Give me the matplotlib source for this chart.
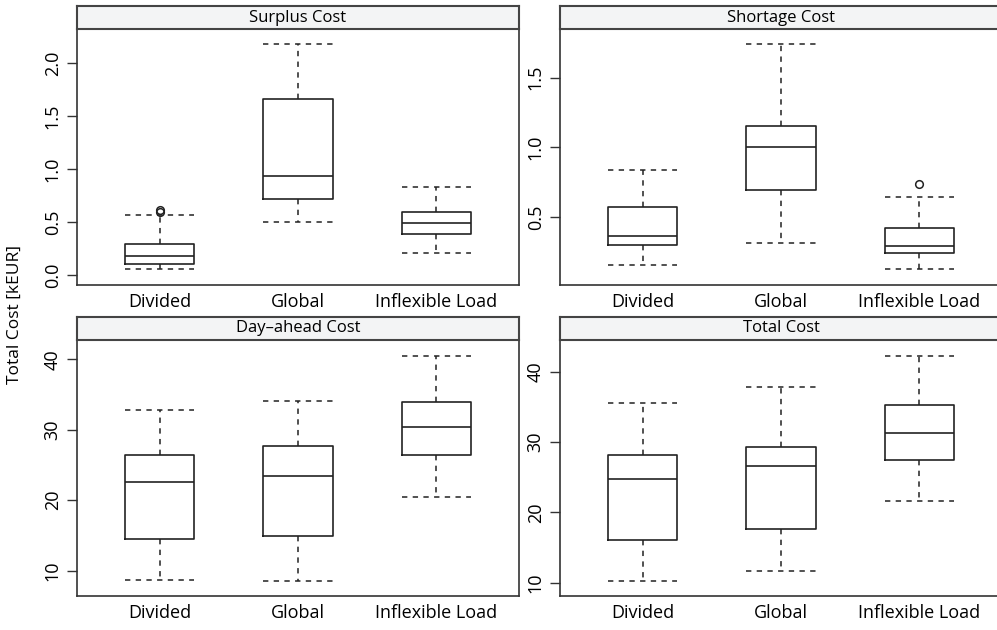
import matplotlib.pyplot as plt

plt.rcParams['font.family'] = ['Open Sans', 'DejaVu Sans']

groups = ["Divided", "Global", "Inflexible Load"]
panels = ["Surplus Cost", "Shortage Cost", "Day\u2013ahead Cost", "Total Cost"]

# box statistics per panel: lower whisker, Q1, median, Q3, upper whisker
surplus_lo = [0.06, 0.50, 0.214]
surplus_q1 = [0.11, 0.717, 0.387]
surplus_med = [0.186, 0.934, 0.49]
surplus_q3 = [0.30, 1.667, 0.594]
surplus_hi = [0.572, 2.18, 0.837]
surplus_out = [[0.600, 0.615], [], []]

shortage_lo = [0.156, 0.316, 0.127]
shortage_q1 = [0.297, 0.694, 0.239]
shortage_med = [0.366, 1.002, 0.294]
shortage_q3 = [0.574, 1.155, 0.424]
shortage_hi = [0.837, 1.742, 0.641]
shortage_out = [[], [], [0.739]]

dayahead_lo = [8.67, 8.58, 20.46]
dayahead_q1 = [14.54, 14.97, 26.42]
dayahead_med = [22.59, 23.39, 30.44]
dayahead_q3 = [26.47, 27.65, 33.90]
dayahead_hi = [32.81, 34.13, 40.52]
dayahead_out = [[], [], []]

total_lo = [10.28, 11.66, 21.67]
total_q1 = [16.07, 17.59, 27.42]
total_med = [24.71, 26.66, 31.31]
total_q3 = [28.22, 29.36, 35.25]
total_hi = [35.53, 37.91, 42.32]
total_out = [[], [], []]

data = [
    (surplus_lo, surplus_q1, surplus_med, surplus_q3, surplus_hi, surplus_out),
    (shortage_lo, shortage_q1, shortage_med, shortage_q3, shortage_hi, shortage_out),
    (dayahead_lo, dayahead_q1, dayahead_med, dayahead_q3, dayahead_hi, dayahead_out),
    (total_lo, total_q1, total_med, total_q3, total_hi, total_out),
]

yticks = [[0.0, 0.5, 1.0, 1.5, 2.0], [0.5, 1.0, 1.5], [10, 20, 30, 40], [10, 20, 30, 40]]
ylims = [(-0.091, 2.324), (0.012, 1.849), (6.40, 42.75), (8.10, 44.55)]

W, H = 997, 630
fig = plt.figure(figsize=(W / 100, H / 100), dpi=100)

# pixel layout of each panel: left, right, strip top, plot bottom
lefts = [77, 560]
width = 442
tops = [6, 317]
bottoms = [285, 596]
strip_h = 23

edge = '#333333'
dash = (0, (3.5, 3.5))

for i, name in enumerate(panels):
    r, c = divmod(i, 2)
    x0 = lefts[c] / W
    w = width / W
    strip_bottom = tops[r] + strip_h
    ax = fig.add_axes([x0, 1 - bottoms[r] / H, w, (bottoms[r] - strip_bottom) / H])
    st = fig.add_axes([x0, 1 - strip_bottom / H, w, strip_h / H])

    lo, q1, med, q3, hi, out = data[i]
    stats = []
    for j, g in enumerate(groups):
        stats.append(dict(label=g, whislo=lo[j], q1=q1[j], med=med[j],
                          q3=q3[j], whishi=hi[j], fliers=out[j]))
    ax.bxp(stats, positions=[1, 2, 3], widths=0.5, capwidths=0.5,
           boxprops=dict(color='#222222', linewidth=1.2),
           medianprops=dict(color='#222222', linewidth=1.2),
           whiskerprops=dict(color='#222222', linewidth=1.1, linestyle=dash),
           capprops=dict(color='#222222', linewidth=1.1, linestyle=dash),
           flierprops=dict(marker='o', markersize=5.5, markerfacecolor='none',
                           markeredgecolor='#222222', markeredgewidth=1.1))

    ax.set_xlim(0.4, 3.6)
    ax.set_ylim(*ylims[i])
    ax.set_yticks(yticks[i])
    ax.set_yticklabels([f"{v:.1f}" if i < 2 else f"{v:d}" for v in yticks[i]],
                       rotation=90, va='center')
    ax.tick_params(axis='y', direction='out', length=7, width=1, color=edge,
                   labelsize=13, pad=4)
    ax.tick_params(axis='x', length=0, labelsize=13, pad=6)
    for s in ax.spines.values():
        s.set_color(edge)
        s.set_linewidth(1.2)
    ax.spines['top'].set_visible(False)

    st.set_xticks([])
    st.set_yticks([])
    st.set_facecolor('#f3f4f5')
    for s in st.spines.values():
        s.set_color('#444444')
        s.set_linewidth(1.5)
    st.text(0.5, 0.5, name, ha='center', va='center', fontsize=12,
            transform=st.transAxes)

fig.text(15 / W, 0.5, "Total Cost [kEUR]", rotation=90, ha='center', va='center',
         fontsize=12.5)

fig.savefig("out.png", dpi=100)
